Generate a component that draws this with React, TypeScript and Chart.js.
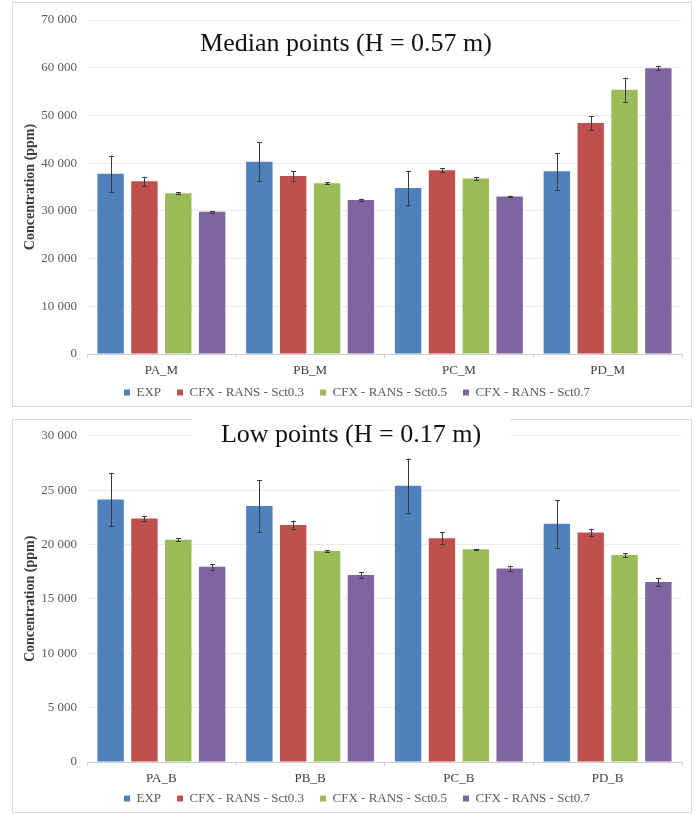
import React, { useEffect, useRef } from 'react';
import { Chart, registerables } from 'chart.js';

Chart.register(...registerables);

// ---------- data ----------
const seriesLabels = ['EXP', 'CFX - RANS - Sct0.3', 'CFX - RANS - Sct0.5', 'CFX - RANS - Sct0.7'];
const seriesColors = ['#4f81bd', '#c0504d', '#9bbb59', '#8064a2'];

const medianCategories = ['PA_M', 'PB_M', 'PC_M', 'PD_M'];
const medianExp = [37800, 40300, 34800, 38300];
const medianExpErr = [3800, 4050, 3600, 3850];
const medianSct03 = [36200, 37300, 38500, 48400];
const medianSct03Err = [950, 1000, 400, 1500];
const medianSct05 = [33700, 35800, 36800, 55400];
const medianSct05Err = [250, 250, 300, 2500];
const medianSct07 = [29800, 32300, 33000, 59900];
const medianSct07Err = [150, 250, 200, 450];

const lowCategories = ['PA_B', 'PB_B', 'PC_B', 'PD_B'];
const lowExp = [24150, 23550, 25400, 21900];
const lowExpErr = [2450, 2400, 2500, 2200];
const lowSct03 = [22400, 21800, 20580, 21100];
const lowSct03Err = [250, 400, 550, 350];
const lowSct05 = [20430, 19400, 19570, 19030];
const lowSct05Err = [150, 60, 60, 200];
const lowSct07 = [17950, 17200, 17800, 16550];
const lowSct07Err = [250, 250, 250, 350];

const medianTitle = 'Median points (H = 0.57 m)';
const lowTitle = 'Low points (H = 0.17 m)';
const yAxisTitle = 'Concentration (ppm)';

const SERIF = "'Liberation Serif', 'Times New Roman', serif";

// ---------- plugins ----------
const framePlugin = {
  id: 'frame',
  beforeDraw(chart: any, _args: any, opts: any) {
    const ctx = chart.ctx;
    ctx.save();
    ctx.fillStyle = '#ffffff';
    ctx.fillRect(0, 0, chart.width, chart.height);
    ctx.strokeStyle = '#d9d9d9';
    ctx.lineWidth = 1;
    ctx.strokeRect(opts.x, opts.y, opts.w, opts.h);
    ctx.restore();
  },
};

const errorBarPlugin = {
  id: 'errorBars',
  afterDatasetsDraw(chart: any, _args: any, opts: any) {
    const ctx = chart.ctx;
    const yScale = chart.scales.y;
    const errs: number[][] = opts.errors || [];
    ctx.save();
    ctx.strokeStyle = '#3a3a3a';
    ctx.lineWidth = 1;
    chart.data.datasets.forEach((ds: any, i: number) => {
      const meta = chart.getDatasetMeta(i);
      meta.data.forEach((el: any, j: number) => {
        const v = ds.data[j];
        const e = errs[i] ? errs[i][j] : 0;
        if (!e) return;
        const x = Math.round(el.x) + 0.5;
        const yt = yScale.getPixelForValue(v + e);
        const yb = yScale.getPixelForValue(v - e);
        const cap = 2.5;
        ctx.beginPath();
        ctx.moveTo(x, yt);
        ctx.lineTo(x, yb);
        ctx.moveTo(x - cap, Math.round(yt) + 0.5);
        ctx.lineTo(x + cap, Math.round(yt) + 0.5);
        ctx.moveTo(x - cap, Math.round(yb) + 0.5);
        ctx.lineTo(x + cap, Math.round(yb) + 0.5);
        ctx.stroke();
      });
    });
    ctx.restore();
  },
};

const innerTitlePlugin = {
  id: 'innerTitle',
  afterDraw(chart: any, _args: any, opts: any) {
    const ctx = chart.ctx;
    ctx.save();
    if (opts.mask) {
      ctx.fillStyle = '#ffffff';
      ctx.fillRect(opts.mask.x, opts.mask.y, opts.mask.w, opts.mask.h);
    }
    ctx.fillStyle = '#111111';
    ctx.font = `26px ${SERIF}`;
    ctx.textAlign = 'center';
    ctx.textBaseline = 'middle';
    ctx.fillText(opts.text, opts.x, opts.y);
    ctx.restore();
  },
};

const fmt = (v: number) => String(v).replace(/\B(?=(\d{3})+(?!\d))/g, ' ');

function buildConfig(p: {
  categories: string[];
  values: number[][];
  errors: number[][];
  max: number;
  step: number;
  padTop: number;
  xHeight: number;
  title: string;
  titleX: number;
  titleY: number;
  mask?: any;
  frame: any;
}) {
  return {
    type: 'bar',
    data: {
      labels: p.categories,
      datasets: p.values.map((vals, i) => ({
        label: seriesLabels[i],
        data: vals,
        backgroundColor: seriesColors[i],
        borderWidth: 0,
        categoryPercentage: 0.91,
        barPercentage: 0.78,
      })),
    },
    options: {
      animation: false,
      responsive: false,
      maintainAspectRatio: false,
      events: [],
      layout: { padding: { left: 20, right: 10, top: p.padTop, bottom: 0 } },
      scales: {
        x: {
          offset: true,
          grid: {
            display: true,
            offset: true,
            drawOnChartArea: false,
            drawTicks: true,
            tickLength: 4,
            color: '#d0d0d0',
          },
          border: { display: true, color: '#d0d0d0', width: 1 },
          ticks: {
            // mirrored so the labels are not clipped to the (short) axis box,
            // negative padding puts them back below the axis line
            mirror: true,
            padding: -24,
            color: '#404040',
            font: { family: SERIF, size: 13 },
          },
          afterFit: (s: any) => {
            s.height = p.xHeight;
          },
        },
        y: {
          min: 0,
          max: p.max,
          grid: { color: '#ebebeb', drawTicks: false, lineWidth: 1 },
          border: { display: false },
          ticks: {
            stepSize: p.step,
            padding: 10,
            color: '#595959',
            font: { family: SERIF, size: 13 },
            callback: (v: any) => fmt(Number(v)),
          },
          title: {
            display: true,
            text: yAxisTitle,
            color: '#3a3a3a',
            font: { family: SERIF, size: 14, weight: 'bold' },
            padding: { top: -10, bottom: 0 },
          },
          afterFit: (s: any) => {
            s.width = 55;
          },
        },
      },
      plugins: {
        legend: {
          display: true,
          position: 'bottom',
          labels: {
            boxWidth: 6,
            boxHeight: 6,
            padding: 16,
            color: '#595959',
            font: { family: SERIF, size: 13 },
          },
        },
        tooltip: { enabled: false },
        title: { display: false },
        errorBars: { errors: p.errors },
        innerTitle: { text: p.title, x: p.titleX, y: p.titleY, mask: p.mask },
        frame: p.frame,
      },
    },
    plugins: [framePlugin, errorBarPlugin, innerTitlePlugin],
  };
}

function ChartCanvas({ config, width, height, style }: any) {
  const ref = useRef<HTMLCanvasElement | null>(null);
  useEffect(() => {
    if (!ref.current) return;
    const chart = new Chart(ref.current, config as any);
    return () => chart.destroy();
  }, [config]);
  return (
    <canvas
      ref={ref}
      width={width}
      height={height}
      style={{ position: 'absolute', width, height, display: 'block', ...style }}
    />
  );
}

const medianConfig = buildConfig({
  categories: medianCategories,
  values: [medianExp, medianSct03, medianSct05, medianSct07],
  errors: [medianExpErr, medianSct03Err, medianSct05Err, medianSct07Err],
  max: 70000,
  step: 10000,
  padTop: 20,
  xHeight: 16,
  title: medianTitle,
  titleX: 334,
  titleY: 44,
  frame: { x: 0.5, y: 2.5, w: 679, h: 404 },
});

const lowConfig = buildConfig({
  categories: lowCategories,
  values: [lowExp, lowSct03, lowSct05, lowSct07],
  errors: [lowExpErr, lowSct03Err, lowSct05Err, lowSct07Err],
  max: 30000,
  step: 5000,
  padTop: 9,
  xHeight: 14,
  title: lowTitle,
  titleX: 339,
  titleY: 17,
  mask: { x: 180, y: 0, w: 318, h: 31 },
  frame: { x: 0.5, y: 1.5, w: 679, h: 393 },
});

export default function App() {
  return (
    <div style={{ position: 'absolute', left: 0, top: 0, width: 698, height: 815, background: '#ffffff' }}>
      <ChartCanvas config={medianConfig} width={680} height={409} style={{ left: 12, top: 0 }} />
      <ChartCanvas config={lowConfig} width={680} height={397} style={{ left: 12, top: 418 }} />
    </div>
  );
}
